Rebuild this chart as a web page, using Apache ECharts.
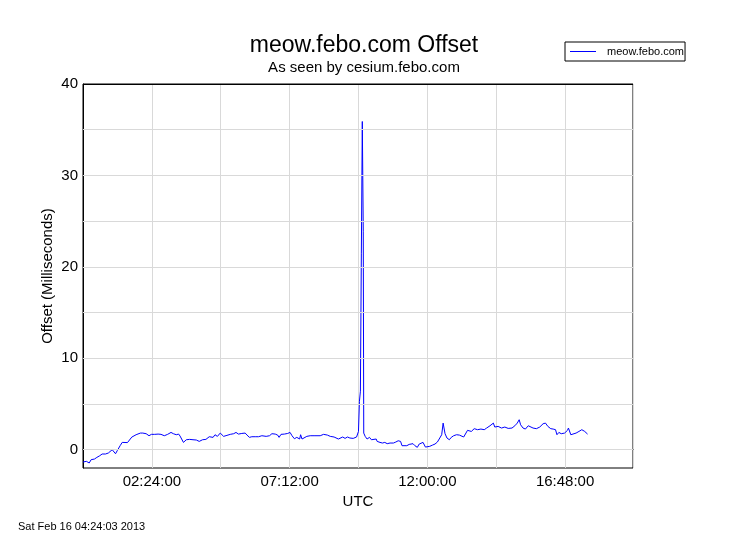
<!DOCTYPE html>
<html>
<head>
<meta charset="utf-8">
<script src="https://cdn.jsdelivr.net/npm/echarts@6/dist/echarts.min.js"></script>
<style>
html,body{margin:0;padding:0;background:#fff;}
#chart{width:750px;height:550px;}
</style>
</head>
<body>
<div id="chart"></div>
<script>
// Time of each sample, minutes after 00:00 UTC
const minutesUTC = [
  0,7,13,17,24,29,35,40,43,47,53,56,61,65,68,72,78,82,86,93,97,102,106,111,115,120,125,129,132,138,
  143,150,157,163,170,177,184,189,195,200,203,206,210,216,223,230,237,240,243,250,257,264,268,272,
  276,281,287,290,294,301,308,315,320,325,332,339,343,348,353,360,367,374,377,383,390,395,402,407,
  410,414,421,428,433,437,442,447,453,455,458,462,468,475,485,496,503,507,511,517,525,534,
  537,543,548,553,558,565,572,576,578,580,582,584,586,587,590,594,599,603,607,613,615,621,626,631,
  636,642,649,654,659,664,667,671,677,682,686,690,694,699,703,707,711,716,720,725,731,736,741,746,
  750,753,755,757,761,766,770,775,781,787,791,796,
  798,804,808,812,818,825,832,839,844,851,858,861,868,875,882,889,897,903,908,912,915,920,925,931,
  935,941,948,955,962,967,972,978,983,988,991,995,1000,1007,1013,1015,1020,1024,1031,1037,1043,1049,1055
];
// Offset in milliseconds
const offsetMs = [
  -1.35,-1.27,-1.45,-1.09,-1.02,-0.84,-0.66,-0.47,-0.66,-0.47,-0.36,-0.15,0.0,-0.2,-0.44,-0.07,0.47,0.80,0.73,0.78,
  0.91,1.38,1.53,1.64,1.75,1.82,1.82,1.89,1.75,1.53,
  1.68,1.68,1.71,1.68,1.53,1.68,1.89,1.75,1.64,1.71,1.49,1.60,0.80,1.09,1.13,1.09,1.06,1.13,0.91,1.09,1.13,1.42,1.49,1.35,
  1.64,1.46,1.82,1.97,1.46,1.57,1.68,1.75,1.89,1.71,1.78,1.82,1.60,1.35,1.42,1.42,1.42,1.53,1.68,1.46,1.53,1.75,1.71,1.60,
  1.35,1.68,1.71,1.78,1.89,1.53,1.20,1.35,1.17,1.64,1.17,1.28,1.46,1.53,1.53,1.53,1.68,1.71,1.60,1.46,1.39,1.17,
  1.28,1.39,1.24,1.39,1.28,1.24,1.39,2.0,5.3,6.4,21.5,35.9,23.9,1.82,1.46,1.17,1.35,1.09,1.28,1.17,0.91,0.80,0.73,0.80,
  0.66,0.73,0.73,0.84,0.98,0.91,0.44,0.58,0.44,0.58,0.44,0.66,0.44,0.26,0.62,0.73,0.80,0.29,0.26,0.37,0.51,0.62,0.84,1.28,
  1.64,2.91,2.73,1.75,1.28,1.09,1.35,1.53,1.64,1.60,1.75,1.39,
  1.39,2.12,1.93,2.0,2.30,2.19,2.26,2.19,2.37,2.62,2.91,2.48,2.55,2.37,2.48,2.33,2.37,2.62,2.91,3.28,2.73,2.37,2.26,2.62,
  2.73,2.37,2.30,2.48,2.84,2.91,2.55,2.30,2.26,2.19,1.64,1.89,1.75,1.82,2.12,2.37,1.64,1.75,1.82,2.00,2.19,2.00,1.71
];
const xTickMinutes = [144, 432, 720, 1008];
const xTickLabels = ['02:24:00', '07:12:00', '12:00:00', '16:48:00'];
const yGridValues = [0, 5, 10, 15, 20, 25, 30, 35, 40];
const yTickLabels = [0, 10, 20, 30, 40];

const FONT = '"Liberation Sans", Arial, Helvetica, sans-serif';
const seriesData = minutesUTC.map((m, i) => [m, offsetMs[i]]);

const chart = echarts.init(document.getElementById('chart'), null, {renderer: 'canvas'});
chart.setOption({
  animation: false,
  backgroundColor: '#ffffff',
  textStyle: {fontFamily: FONT},
  title: [
    {text: 'meow.febo.com Offset', left: 359, top: 29, textAlign: 'center',
     textStyle: {fontSize: 23, fontWeight: 'normal', color: '#000', fontFamily: FONT}},
    {text: 'As seen by cesium.febo.com', left: 359, top: 55, textAlign: 'center',
     textStyle: {fontSize: 15, fontWeight: 'normal', color: '#000', fontFamily: FONT}}
  ],
  legend: {
    data: [{name: 'meow.febo.com', icon: 'rect'}],
    left: 565, top: 42,
    orient: 'vertical',
    borderColor: '#000', borderWidth: 1, borderRadius: 0,
    padding: [4, 1, 4, 5],
    itemWidth: 26, itemHeight: 1, itemGap: 0,
    itemStyle: {color: '#0000ff', borderWidth: 0},
    textStyle: {fontSize: 11, color: '#000', fontFamily: FONT, padding: [0, 0, 0, 6]}
  },
  grid: {
    left: 83, top: 84, width: 550, height: 384,
    show: true, borderColor: '#000', borderWidth: 1, backgroundColor: 'transparent'
  },
  xAxis: {
    type: 'value', min: 0, max: 1150, interval: 144,
    name: 'UTC', nameLocation: 'middle', nameGap: 18,
    nameTextStyle: {fontSize: 15, color: '#000', fontFamily: FONT},
    axisLine: {show: true, lineStyle: {color: '#000', width: 1}},
    axisTick: {show: false},
    axisLabel: {
      fontSize: 15, color: '#000', margin: 6, fontFamily: FONT,
      formatter: v => { const i = xTickMinutes.indexOf(v); return i >= 0 ? xTickLabels[i] : ''; }
    },
    splitLine: {show: true, lineStyle: {color: '#d9d9d9', width: 1}}
  },
  yAxis: {
    type: 'value', min: -2, max: 40,
    name: 'Offset (Milliseconds)', nameLocation: 'middle', nameGap: 28,
    nameTextStyle: {fontSize: 15, color: '#000', fontFamily: FONT},
    axisLine: {show: true, lineStyle: {color: '#000', width: 1}},
    axisTick: {show: false},
    axisLabel: {show: false},
    splitLine: {show: false}
  },
  series: [
    {
      name: 'grid', type: 'line', data: [], z: 1, silent: true,
      markLine: {
        silent: true, symbol: ['none', 'none'], animation: false,
        lineStyle: {color: '#d9d9d9', width: 1, type: 'solid'},
        label: {
          show: true, position: 'start', distance: 5, fontSize: 15, color: '#000', fontFamily: FONT,
          formatter: p => yTickLabels.indexOf(p.value) >= 0 ? String(p.value) : ''
        },
        emphasis: {disabled: true},
        data: yGridValues.map(v => ({yAxis: v, lineStyle: v === 40 ? {color: '#000'} : undefined}))
      }
    },
    {
      name: 'meow.febo.com', type: 'line', data: seriesData, z: 3,
      symbol: 'none', showSymbol: false,
      lineStyle: {color: '#0000ff', width: 1},
      itemStyle: {color: '#0000ff'}
    }
  ],
  graphic: [
    {type: 'text', left: 18, top: 521,
     style: {text: 'Sat Feb 16 04:24:03 2013', fontSize: 11, fill: '#000', fontFamily: FONT}}
  ]
});
</script>
</body>
</html>
